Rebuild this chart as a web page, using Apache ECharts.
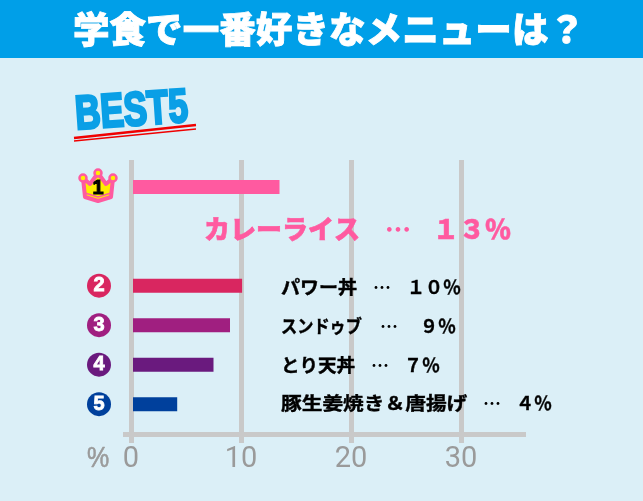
<!DOCTYPE html>
<html><head><meta charset="utf-8">
<style>html,body{margin:0;padding:0;background:#dbeff7}#c{width:643px;height:501px}</style>
<script src="https://cdn.jsdelivr.net/npm/echarts@6/dist/echarts.min.js"></script>
</head><body><div id="c"></div>
<script>
const titleText = '学食で一番好きなメニューは？';
const bestText = 'BEST5';
const rows = ['1','','','','','2','','3','','4','','5'];
const values = [13.5,null,null,null,null,10.1,null,9,null,7.5,null,4.2];
const colors = ['#ff5aa0',null,null,null,null,'#d92660',null,'#a01f80',null,'#6a1a7e',null,'#00409c'];
const topName = 'カレーライス';
const topValue = '１３％';
const rowNames = ['パワー丼','スンドゥブ','とり天丼','豚生姜焼き＆唐揚げ'];
const rowValues = ['１０％','９％','７％','４％'];
const gray = '#c9c9c9';
const jp = '"Noto Sans CJK JP"';
const chart = echarts.init(document.getElementById('c'), null, {renderer:'canvas'});
const rich = {};
rows.forEach((r,i)=>{ if(r && r!=='1') rich['r'+r] = {
  width:24,height:24,borderRadius:12,backgroundColor:colors[i],color:'#fff',
  fontFamily:'"Liberation Sans"',fontWeight:'bold',fontSize:20,align:'center',lineHeight:24,
  textBorderColor:'#fff',textBorderWidth:0.8}; });
const labelYs = [287,326,365,403];
const nameScale = [1.055,0.9,1.03,1.15];
const nameX = 281, dotsX = [373,380,371,483], valX = [407,420,404,516];
const crownPts = [[83,178],[90,184],[98,173],[106,184],[113,178],[111,197],[98,201],[85,197]];
chart.setOption({
  animation:false,
  backgroundColor:'#dbeff7',
  grid:[{left:131,right:182,top:160,bottom:67},{left:131,right:182,top:177,bottom:87}],
  xAxis:[
    {gridIndex:0,type:'value',min:0,max:30,interval:10,position:'bottom',
     axisLine:{show:false},axisTick:{show:true,length:9,lineStyle:{color:gray,width:5}},
     splitLine:{show:true,lineStyle:{color:gray,width:5}},
     axisLabel:{color:'#9a9a9a',fontSize:29,fontFamily:'Roboto',margin:11}},
    {gridIndex:1,type:'value',min:0,max:30,interval:10,show:false}
  ],
  yAxis:[
    {gridIndex:0,type:'value',show:false},
    {gridIndex:1,type:'category',inverse:true,data:rows,
     axisLine:{show:false},axisTick:{show:false},
     axisLabel:{interval:0,margin:20,formatter:v=>v&&v!=='1'?`{r${v}|${v}}`:'',rich}}
  ],
  series:[{type:'bar',xAxisIndex:1,yAxisIndex:1,barWidth:14,barCategoryGap:0,
    data:values.map((v,i)=>v==null?null:{value:v,itemStyle:{color:colors[i]}})}],
  graphic:[
    {type:'rect',z:-1,shape:{x:0,y:0,width:643,height:58},style:{fill:'#009fe8'}},
    {type:'text',x:329,y:29,z:10,style:{text:titleText,fill:'#fff',stroke:'#fff',lineWidth:0.8,font:`900 36.6px ${jp}`,textAlign:'center',textVerticalAlign:'middle'}},
    {type:'text',x:77,y:140,z:10,rotation:0.07,scaleY:1.4,scaleX:1.03,style:{text:bestText,fill:'#0a9fe6',stroke:'#0a9fe6',lineWidth:2,font:'bold 34px "Liberation Sans"',textVerticalAlign:'bottom'}},
    {type:'line',z:10,shape:{x1:74,y1:138,x2:196,y2:125},style:{stroke:'#f00000',lineWidth:2.5}},
    {type:'line',z:10,shape:{x1:74,y1:141,x2:196,y2:129},style:{stroke:'#f00000',lineWidth:1.5}},
    {type:'rect',z:10,shape:{x:123,y:432,width:403,height:5},style:{fill:gray}},
    {type:'rect',z:10,shape:{x:129,y:160,width:4,height:274},style:{fill:gray}},
    {type:'text',x:98,y:459,z:10,scaleY:1.2,style:{text:'%',fill:'#9a9a9a',stroke:'#9a9a9a',lineWidth:0.5,font:'25px "Liberation Sans"',textAlign:'center',textVerticalAlign:'middle'}},
    {type:'polygon',z:10,shape:{points:crownPts},style:{fill:'#ffee00',stroke:'#ff5aa0',lineWidth:4,lineJoin:'round'}},
    {type:'polyline',z:10,shape:{points:[[85,193],[98,197],[111,193]]},style:{fill:'none',stroke:'#ff5aa0',lineWidth:1.5}},
    ...crownPts.slice(0,5).filter((p,i)=>i%2===0).map(p=>({type:'circle',z:10,shape:{cx:p[0],cy:p[1],r:3.5},style:{fill:'#ffee00',stroke:'#ff5aa0',lineWidth:2.5}})),
    {type:'text',x:98,y:188,z:11,style:{text:'1',fill:'#000',stroke:'#000',lineWidth:1,font:'bold 20px "Liberation Sans"',textAlign:'center',textVerticalAlign:'middle'}},
    {type:'text',x:204,y:229,z:10,style:{text:topName,fill:'#ff5aa0',stroke:'#ff5aa0',lineWidth:0.6,font:`900 26px ${jp}`,textVerticalAlign:'middle'}},
    {type:'text',x:385,y:229,z:10,style:{text:'…',fill:'#ff5aa0',font:`900 26px ${jp}`,textVerticalAlign:'middle'}},
    {type:'text',x:433,y:229,z:10,style:{text:topValue,fill:'#ff5aa0',stroke:'#ff5aa0',lineWidth:0.5,font:`900 26px ${jp}`,textVerticalAlign:'middle'}},
    ...rowNames.flatMap((t,i)=>[
      {type:'text',x:nameX,y:labelYs[i],z:10,scaleX:nameScale[i],style:{text:t,fill:'#000',stroke:'#000',lineWidth:0.4,font:`700 18px ${jp}`,textVerticalAlign:'middle'}},
      {type:'text',x:dotsX[i],y:labelYs[i],z:10,style:{text:'…',fill:'#000',font:`700 18px ${jp}`,textVerticalAlign:'middle'}},
      {type:'text',x:valX[i],y:labelYs[i],z:10,style:{text:rowValues[i],fill:'#000',stroke:'#000',lineWidth:0.3,font:`700 18px ${jp}`,textVerticalAlign:'middle'}}
    ])
  ]
});
</script></body></html>
